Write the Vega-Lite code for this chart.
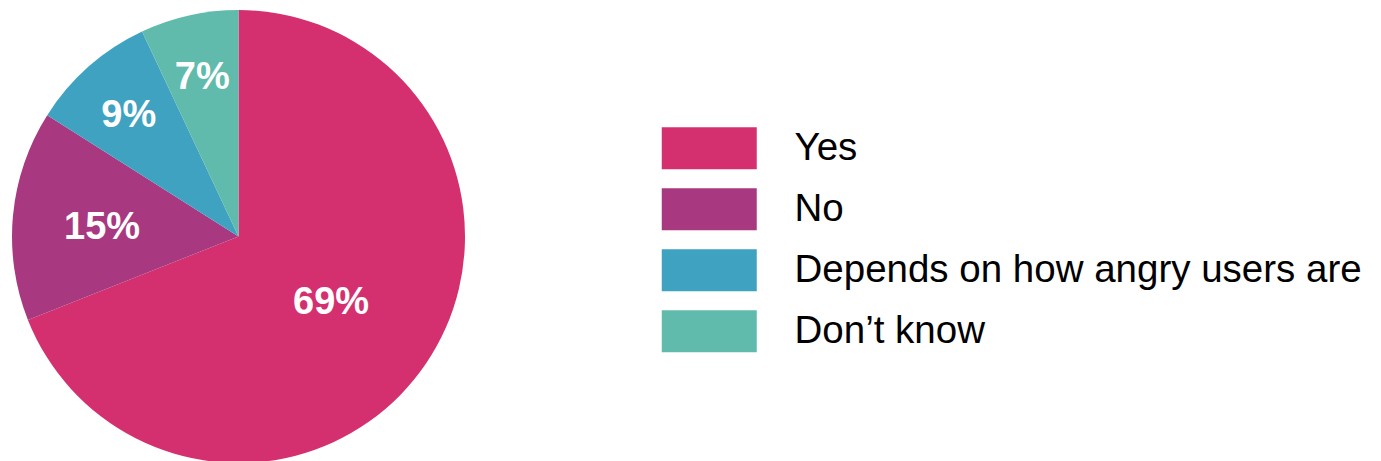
{
  "$schema": "https://vega.github.io/schema/vega-lite/v6.json",
  "width": 477,
  "height": 473,
  "padding": 0,
  "background": "white",
  "view": {"stroke": null},
  "data": {
    "values": [
      {"answer": "Yes", "share": 0.69, "rank": 1},
      {"answer": "No", "share": 0.15, "rank": 2},
      {"answer": "Depends on how angry users are", "share": 0.09, "rank": 3},
      {"answer": "Don’t know", "share": 0.07, "rank": 4}
    ]
  },
  "encoding": {
    "theta": {"field": "share", "type": "quantitative", "stack": true},
    "order": {"field": "rank", "type": "quantitative"},
    "color": {
      "field": "answer",
      "type": "nominal",
      "sort": ["Yes", "No", "Depends on how angry users are", "Don’t know"],
      "scale": {
        "domain": ["Yes", "No", "Depends on how angry users are", "Don’t know"],
        "range": ["#D4306F", "#A8387F", "#3FA2C1", "#60BBAC"]
      },
      "legend": {
        "orient": "none",
        "legendX": 690,
        "legendY": 129,
        "title": null,
        "symbolType": "M-9.5,-4.2H9.5V4.2H-9.5Z",
        "symbolSize": 100,
        "symbolStrokeWidth": 0,
        "symbolOpacity": 1,
        "rowPadding": 18,
        "labelFont": "Liberation Sans",
        "labelFontSize": 38.5,
        "labelColor": "#000000",
        "labelOffset": 66,
        "labelLimit": 800
      }
    }
  },
  "layer": [
    {"mark": {"type": "arc", "outerRadius": 226.5}},
    {
      "mark": {
        "type": "text",
        "font": "Liberation Sans",
        "fontWeight": "bold",
        "fontSize": 38,
        "align": "center",
        "baseline": "middle",
        "dy": 4,
        "radius": {"expr": "datum.answer === 'Yes' ? 112 : (datum.answer === 'No' ? 137 : 166)"}
      },
      "encoding": {
        "text": {"field": "share", "type": "quantitative", "format": ".0%"},
        "color": {"value": "white"}
      }
    }
  ]
}
